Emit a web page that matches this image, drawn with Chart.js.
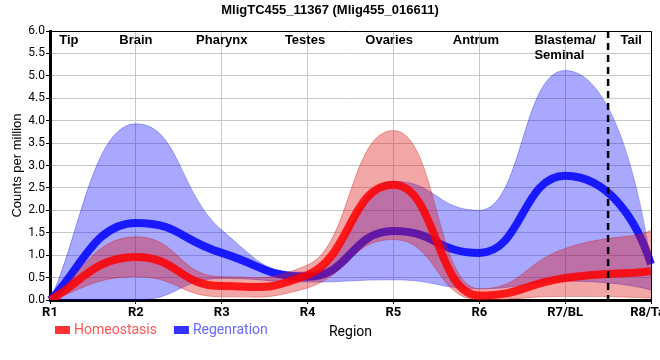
<!DOCTYPE html>
<html><head><meta charset="utf-8">
<script src="https://cdn.jsdelivr.net/npm/chart.js@4"></script>
<style>html,body{margin:0;padding:0;background:#fff}#wrap{width:660px;height:360px;position:relative}</style>
</head><body><div id="wrap"><canvas id="c"></canvas></div>
<script>
const categories = ['R1','R2','R3','R4','R5','R6','R7/BL','R8/Tail'];
const homeoMean  = [0, 0.96, 0.31, 0.56, 2.57, 0.10, 0.49, 0.65];
const homeoUpper = [0, 1.41, 0.52, 0.78, 3.78, 0.25, 1.15, 1.56];
const homeoLower = [0, 0.52, 0.07, 0.27, 1.35, 0.00, 0.08, 0.04];
const regenMean  = [0, 1.72, 1.05, 0.52, 1.54, 1.05, 2.77, 0.80];
const regenUpper = [0, 3.93, 1.56, 0.62, 2.65, 2.00, 5.12, 0.80];
const regenLower = [0, 0.00, 0.48, 0.40, 0.45, 0.25, 0.42, 0.22];
const seriesNames = ['Homeostasis', 'Regenration'];
const regionNames = ['Tip','Brain','Pharynx','Testes','Ovaries','Antrum','Blastema/\nSeminal','Tail'];
const regionAnchors = [0.22, 1, 2, 2.97, 3.95, 4.96, 6.0, 6.77];
const dividerAt = 6.5;
const titleText = 'MligTC455_11367 (Mlig455_016611)';
const yTitle = 'Counts per million';
const xTitle = 'Region';

const RED_LINE = 'rgba(255,0,0,0.85)';
const BLUE_LINE = 'rgba(0,0,255,0.85)';
const RED_FILL = 'rgba(220,20,20,0.38)';
const BLUE_FILL = 'rgba(0,0,255,0.34)';
const CURVE_STRETCH = 1.5;

const bandEdge = (c) => ({pointRadius:0, borderWidth:1, borderColor:c, cubicInterpolationMode:'monotone'});

const smoother = {
  id: 'smoother',
  afterDatasetsUpdate(chart) { chart.$needStretch = true; },
  beforeDraw(chart) {
    if (!chart.$needStretch) return;
    chart.$needStretch = false;
    const a = chart.chartArea;
    const clampY = v => Math.min(a.bottom, Math.max(a.top, v));
    chart.getSortedVisibleDatasetMetas().forEach(meta => {
      const line = meta.dataset;
      if (!line) return;
      line.updateControlPoints(a, 'x');
      const n = meta.data.length;
      meta.data.forEach((p, i) => {
        if (p.cp1x === undefined) return;
        const end = (i === 0 || i === n - 1);
        const fx = end ? 0.5 : CURVE_STRETCH;
        const fy = CURVE_STRETCH;
        p.cp1x = p.x + (p.cp1x - p.x) * fx;
        p.cp1y = clampY(p.y + (p.cp1y - p.y) * fy);
        p.cp2x = p.x + (p.cp2x - p.x) * fx;
        p.cp2y = clampY(p.y + (p.cp2y - p.y) * fy);
      });
    });
  }
};

const decor = {
  id: 'decor',
  afterDatasetsDraw(chart) {
    const {ctx, chartArea: a, scales: {x}} = chart;
    ctx.save();
    ctx.strokeStyle = '#000'; ctx.lineWidth = 1;
    ctx.beginPath();
    ctx.moveTo(a.left, a.top + 0.5); ctx.lineTo(a.right + 0.5, a.top + 0.5); ctx.lineTo(a.right + 0.5, a.bottom);
    ctx.stroke();
    const dx = x.getPixelForValue(dividerAt);
    ctx.setLineDash([7,5]); ctx.lineWidth = 2.5;
    ctx.beginPath(); ctx.moveTo(dx, a.top); ctx.lineTo(dx, a.bottom); ctx.stroke();
    ctx.setLineDash([]);
    ctx.fillStyle = '#000';
    ctx.font = 'bold 13px "Liberation Sans", Arial, sans-serif';
    ctx.textBaseline = 'alphabetic';
    regionNames.forEach((n, i) => {
      const px = x.getPixelForValue(regionAnchors[i]);
      const lines = n.split('\n');
      if (lines.length > 1) {
        ctx.textAlign = 'left';
        const w = Math.max(...lines.map(l => ctx.measureText(l).width));
        lines.forEach((l, j) => ctx.fillText(l, px - w / 2, a.top + 13 + j * 15));
      } else {
        ctx.textAlign = 'center';
        ctx.fillText(n, px, a.top + 13);
      }
    });
    ctx.restore();
  },
  afterDraw(chart) {
    const {ctx, chartArea: a} = chart;
    ctx.save();
    ctx.fillStyle = '#000';
    ctx.font = 'bold 13px "Liberation Sans", Arial, sans-serif';
    ctx.textAlign = 'center'; ctx.textBaseline = 'alphabetic';
    ctx.fillText(titleText, 330, 14);
    ctx.font = '14px Roboto, sans-serif';
    ctx.textAlign = 'left'; ctx.textBaseline = 'middle';
    const boxCols = ['rgb(255,51,51)', 'rgb(51,51,255)'];
    const txtCols = ['rgb(255,85,85)', 'rgb(105,105,255)'];
    let lx = 55; const ly = 330;
    seriesNames.forEach((n, i) => {
      ctx.fillStyle = boxCols[i];
      ctx.fillRect(lx, ly - 4, 15, 8);
      ctx.fillStyle = txtCols[i];
      ctx.fillText(n, lx + 19, ly);
      lx += 19 + ctx.measureText(n).width + 17;
    });
    ctx.fillStyle = '#000';
    ctx.textAlign = 'center';
    ctx.fillText(xTitle, (a.left + a.right) / 2, 332);
    ctx.restore();
  }
};

new Chart(document.getElementById('c'), {
  type: 'line',
  data: {
    labels: categories,
    datasets: [
      {label: seriesNames[0], data: homeoMean, order: 0, borderColor: RED_LINE, borderWidth: 8, pointRadius: 0, fill: false, cubicInterpolationMode: 'monotone', borderCapStyle: 'butt'},
      {label: 'hu', data: homeoUpper, order: 1, fill: {target: 2}, backgroundColor: RED_FILL, ...bandEdge('rgba(200,30,30,0.35)')},
      {label: 'hl', data: homeoLower, order: 1, fill: false, ...bandEdge('rgba(200,30,30,0.35)')},
      {label: seriesNames[1], data: regenMean, order: 2, borderColor: BLUE_LINE, borderWidth: 8, pointRadius: 0, fill: false, cubicInterpolationMode: 'monotone', borderCapStyle: 'butt'},
      {label: 'ru', data: regenUpper, order: 3, fill: {target: 5}, backgroundColor: BLUE_FILL, ...bandEdge('rgba(0,0,230,0.3)')},
      {label: 'rl', data: regenLower, order: 3, fill: false, ...bandEdge('rgba(0,0,230,0.3)')}
    ]
  },
  options: {
    responsive: true, maintainAspectRatio: false, animation: false,
    layout: {padding: {left: 0, right: 9, top: 31, bottom: 0}},
    plugins: {legend: {display: false}, title: {display: false}, tooltip: {enabled: false}},
    scales: {
      x: {
        type: 'category', offset: false,
        grid: {color: '#c8c8c8', lineWidth: 1, tickLength: 4, tickColor: '#000'},
        border: {color: '#000', width: 3},
        ticks: {color: '#000', font: {family: 'Roboto', size: 13, weight: 'bold'}, padding: 1, maxRotation: 0, autoSkip: false},
        afterFit(s) { s.height = 60; s.paddingLeft = 0; s.paddingRight = 0; }
      },
      y: {
        min: 0, max: 6,
        grid: {color: '#c8c8c8', lineWidth: 1, tickLength: 4, tickColor: '#000'},
        border: {color: '#000', width: 3},
        ticks: {stepSize: 0.5, color: '#000', font: {family: 'Roboto', size: 12}, padding: 1, callback: v => Number(v).toFixed(1)},
        title: {display: true, text: yTitle, color: '#000', font: {family: '"Liberation Sans", Arial', size: 13}, padding: {top: 10, bottom: 0}},
        afterFit(s) { s.width = 50; s.paddingTop = 0; s.paddingBottom = 0; }
      }
    }
  },
  plugins: [smoother, decor]
});
</script></body></html>
